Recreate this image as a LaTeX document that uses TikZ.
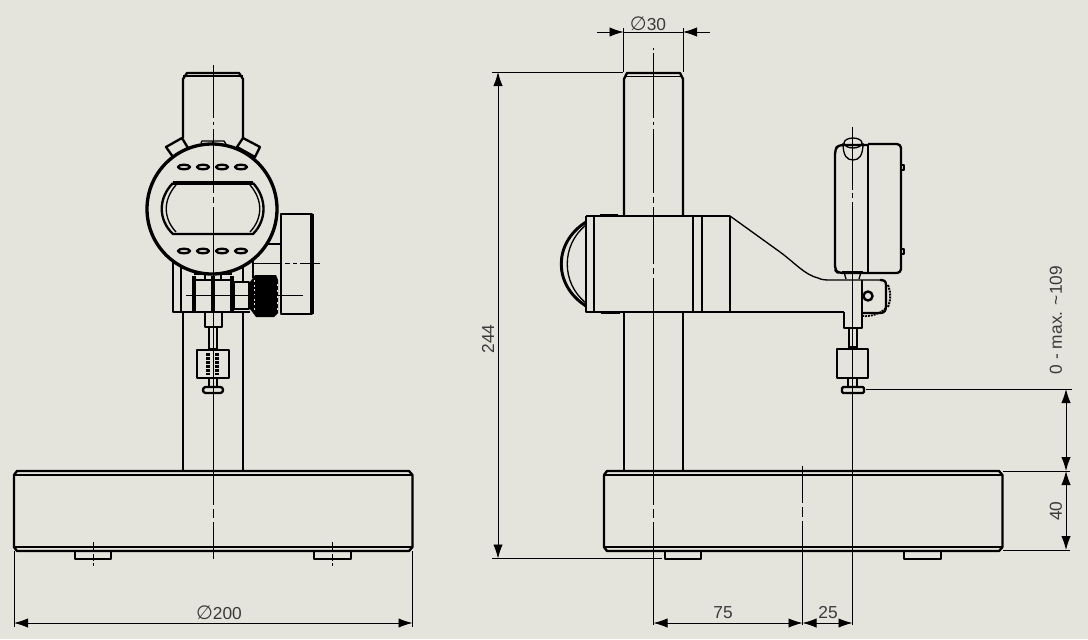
\documentclass[tikz,border=0pt]{standalone}
\usepackage{fontspec}
\setmainfont{Liberation Sans}
\newfontfamily\symfont{DejaVu Sans}
\usetikzlibrary{arrows.meta}
\definecolor{paper}{HTML}{E4E4DC}
\definecolor{dimtext}{HTML}{3A3A3A}
\newcommand{\diasign}{{\symfont\fontsize{14.5}{14}\selectfont ∅}}
\tikzset{
	edge/.style={line width=1.75pt,line join=round},
	fine/.style={line width=1pt,line join=round},
	axisline/.style={line width=.75pt},
	dimline/.style={line width=.65pt,>={Latex[length=10.5pt,width=7pt]}},
	dimlabel/.style={text=dimtext,font=\fontsize{13}{14}\selectfont,inner sep=0pt},
}
\begin{document}
\begin{tikzpicture}[x=.75pt,y=-.75pt]
	\useasboundingbox (0,0) rectangle (1088,639);
	\fill[paper] (0,0) rectangle (1088,639);

	% bases
	\foreach \bx in {14,604}{
		\draw[edge] (\bx,475) -- (\bx,547) -- (\bx+3,551) -- (\bx+395,551) -- (\bx+398.5,547) -- (\bx+398.5,475) -- (\bx+395,471) -- (\bx+3,471) -- cycle;
		\draw[edge] (\bx,475) -- (\bx+398.5,475);
		\draw[edge] (\bx,547) -- (\bx+398.5,547);
		\draw[fine] (\bx+61,552) -- (\bx+61,559) -- (\bx+97,559) -- (\bx+97,552);
		\draw[fine] (\bx+300,552) -- (\bx+300,559) -- (\bx+337,559) -- (\bx+337,552);
	}

	% left view: column
	\draw[edge] (183,138) -- (183,79) -- (187,73) -- (239,73) -- (243,79) -- (243,138);
	\draw[fine] (183,76) -- (243,76);
	\draw[edge] (183,312) -- (183,471);
	\draw[edge] (243,312) -- (243,471);

	% left view: gauge
	\draw[edge] (166,147) -- (182,138) -- (188,148) -- (173,157) -- cycle;
	\draw[edge] (243,138) -- (260,147) -- (255,157) -- (237,147) -- cycle;
	\draw[fine] (201,143) -- (202,141) -- (224,141) -- (226,144);
	\draw[fine] (213,141) -- (213,144);
	\draw[line width=2.5pt,fill=paper] (212,209) circle[radius=65];
	\draw[line width=2.6pt] (173,183) -- (253,183);
	\draw[edge] (173,183) .. controls (158,198) and (158,220) .. (173,234) -- (253,234) .. controls (267,220) and (267,198) .. (253,183);
	\draw[fine] (176,185) .. controls (163,200) and (163,218) .. (176,232);
	\draw[fine] (250,185) .. controls (263,200) and (263,218) .. (250,232);
	\foreach \bx in {184,203,222,241}{
		\draw[edge] (\bx,167) ellipse[x radius=6,y radius=2.2];
		\draw[edge] (\bx,251) ellipse[x radius=6,y radius=2.2];
	}

	% left view: disc and knob
	\draw[edge] (281,214) -- (312,214) -- (312,314) -- (281,314) -- cycle;
	\draw[line width=2.6pt] (312,214) -- (312,314);
	\draw[fine] (268,244) -- (281,244);
	\draw[edge] (173,262) -- (173,312) -- (250,312);
	\draw[edge] (181,267) -- (181,312);
	\draw[fine] (194,274) -- (205,274) -- (205,279);
	\draw[fine] (221,279) -- (221,274) -- (232,274);
	\draw[edge] (194,280) -- (232,280);
	\draw[line width=2.6pt] (194,276) -- (194,312);
	\draw[line width=2.6pt] (213,276) -- (213,312);
	\draw[line width=2.6pt] (232,276) -- (232,312);
	\draw[edge] (234,282) -- (249,282) -- (249,309) -- (234,309) -- cycle;
	\draw[edge] (243,267) -- (243,281);
	\draw[edge] (253,258) -- (253,278);
	\fill[black] (250,282) -- (255,275) -- (276,275) -- (278,280) -- (278,313) -- (274,317) -- (256,317) -- (250,309) -- cycle;
	\draw[paper,line width=.6pt,dash pattern=on 1.5pt off 2pt] (254.5,280) -- (254.5,312);
	\draw[paper,line width=.6pt,dash pattern=on 1.5pt off 3pt] (277,284) -- (277,310);

	% left view: spindle
	\draw[edge] (205,312) -- (205,327) -- (222,327) -- (222,312);
	\draw[fine] (209,327) -- (209,349) -- (217,349) -- (217,327);
	\draw[edge] (197,350) rectangle (229,378);
	\foreach \bx in {208,217}{
		\draw[line width=2.6pt,dash pattern=on 2.5pt off .5pt] (\bx,353) -- (\bx,375);
	}
	\draw[fine] (209,378) -- (209,387);
	\draw[fine] (217,378) -- (217,387);
	\draw[edge,rounded corners=2pt] (203,387) rectangle (223,393);

	% right view: column
	\draw[edge] (624,216) -- (624,79) -- (627,73) -- (680,73) -- (683,79) -- (683,216);
	\draw[fine] (624,76.5) -- (683,76.5);
	\draw[edge] (624,312) -- (624,471);
	\draw[edge] (683,312) -- (683,471);

	% right view: arm
	\draw[edge] (586,216) -- (730,216);
	\draw[edge] (586,216) -- (586,312) -- (844,312);
	\foreach \ax in {594,693,702,730}{
		\draw[edge] (\ax,216) -- (\ax,312);
	}
	\draw[line width=2.2pt] (600,215) -- (618,215);
	\draw[line width=2.2pt] (601,313) -- (620,313);
	\draw[line width=2.2pt] (586,222) .. controls (553,243) and (553,285) .. (586,306);
	\draw[fine] (586,225) .. controls (561,245) and (561,283) .. (586,303);
	\draw[fine] (730,216) -- (780,252) .. controls (795,263) and (805,275) .. (818,278) .. controls (822,280) and (826,280) .. (830,280) -- (880,280);
	\draw[edge] (880,280) .. controls (884,280) and (886,281) .. (886,285) -- (886,306) .. controls (886,311) and (884,313) .. (880,313) -- (862,313);
	\draw[fine] (862,280) -- (862,313);
	\draw[line width=1.5pt,dash pattern=on 1.5pt off .7pt] (888,285) .. controls (891,292) and (891,300) .. (888,307);
	\draw[line width=1.3pt,dash pattern=on 1.5pt off .7pt] (862,316) .. controls (870,317) and (880,314) .. (886,308);
	\draw[line width=1.8pt] (868,296) circle[radius=4.5];

	% right view: gauge
	\draw[edge,rounded corners=3pt] (868,273) -- (838,273) -- (835,270) -- (835,150) -- (838,145) -- (868,145);
	\draw[edge] (868,145) -- (868,273);
	\draw[edge,rounded corners=3pt] (868,144) -- (901,144) -- (901,273) -- (868,273);
	\draw[fine] (901,165) rectangle (904,170);
	\draw[fine] (901,249) rectangle (904,254);
	\draw[fine] (853,143) ellipse[x radius=9,y radius=5];
	\draw[fine] (843,143) .. controls (843,156) and (847,160) .. (853,160) .. controls (859,160) and (863,156) .. (863,143);
	\draw[edge] (842,272) -- (863,272);
	\draw[fine] (844,272) -- (846,279) (861,272) -- (859,279);

	% right view: spindle
	\draw[edge] (844,312) -- (844,328) -- (862,328) -- (862,313);
	\draw[fine] (849,328) -- (849,348) -- (857,348) -- (857,328);
	\draw[edge] (849,347) -- (857,347);
	\draw[edge] (837,349) rectangle (868,378);
	\draw[fine] (848,378) -- (848,387);
	\draw[fine] (857,378) -- (857,387);
	\draw[edge,rounded corners=1pt] (842,387) rectangle (864,393);

	% centre lines
	\foreach \a/\b in {65/118,122/125,129/193,197/203,207/505,509/518,522/559}{
		\draw[axisline] (213,\a) -- (213,\b);
	}
	\foreach \a/\b in {48/50,53/118,122/125,129/193,197/203,207/264,268/274,278/505,509/518,522/625}{
		\draw[axisline] (653.5,\a) -- (653.5,\b);
	}
	\foreach \a/\b in {127/190,193/198,202/625}{
		\draw[axisline] (852.5,\a) -- (852.5,\b);
	}
	\foreach \a/\b in {466/503,507/517,521/625}{
		\draw[axisline] (802.5,\a) -- (802.5,\b);
	}
	\foreach \a/\b in {253/281,285/290,293/297,300/320}{
		\draw[axisline] (\a,263) -- (\b,263);
	}
	\draw[axisline] (186,295) -- (303,295);
	\foreach \bx in {93.5,332}{
		\draw[axisline] (\bx,542) -- (\bx,552);
		\draw[axisline] (\bx,554) -- (\bx,561);
		\draw[axisline] (\bx,563) -- (\bx,566);
	}

	% dimensions
	\draw[dimline] (14,551) -- (14,627);
	\draw[dimline] (412.5,551) -- (412.5,627);
	\draw[dimline,<->] (14,623) -- (412.5,623);
	\node[dimlabel] (dimbase) at (219,613) {\diasign 200};

	\draw[dimline] (623.5,28) -- (623.5,72);
	\draw[dimline] (683,28) -- (683,72);
	\draw[dimline,->] (597,32) -- (623.5,32);
	\draw[dimline,->] (710,32) -- (683,32);
	\draw[dimline] (623.5,32) -- (683,32);
	\node[dimlabel] (dimcolumn) at (648,24) {\diasign 30};

	\draw[dimline] (492,72) -- (623,72);
	\draw[dimline] (492,558.5) -- (662,558.5);
	\draw[dimline,<->] (498,72) -- (498,558.5);
	\node[dimlabel,rotate=90] (dimheight) at (488,339) {244};

	\draw[dimline,<->] (653.5,623) -- (802.5,623);
	\node[dimlabel] (dimspindle) at (723,613) {75};
	\draw[dimline,<->] (802.5,623) -- (852.5,623);
	\node[dimlabel] (dimreach) at (828,613) {25};

	\draw[dimline] (866,389) -- (1072,389);
	\draw[dimline] (1003,471) -- (1070,471);
	\draw[dimline] (1003,550) -- (1070,550);
	\draw[dimline,<->] (1066,389) -- (1066,471);
	\draw[dimline,<->] (1066,471) -- (1066,550);
	\node[dimlabel,rotate=90] (dimbaseh) at (1056,511) {40};
	\node[dimlabel,rotate=90] (dimrange) at (1056,320) {0 - max. \textasciitilde109};
\end{tikzpicture}
\end{document}
